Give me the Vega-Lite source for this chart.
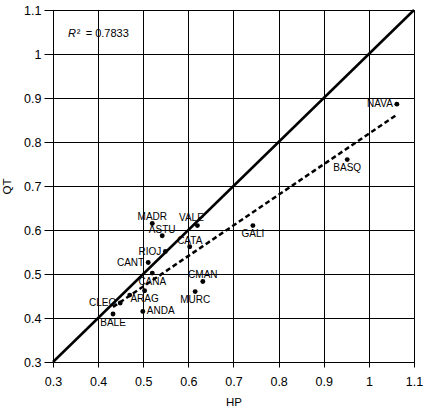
{
  "$schema": "https://vega.github.io/schema/vega-lite/v6.json",
  "width": 361,
  "height": 352,
  "autosize": {"type": "none"},
  "padding": {"left": 53, "top": 10, "right": 10, "bottom": 48},
  "background": "white",
  "config": {
    "font": "Liberation Sans",
    "view": {"stroke": "black", "strokeWidth": 1},
    "axis": {
      "grid": true, "gridColor": "black", "gridOpacity": 1, "gridWidth": 1,
      "domainColor": "black", "domainWidth": 1, "tickColor": "black", "tickWidth": 1,
      "labelColor": "black", "titleColor": "black",
      "labelFont": "Liberation Sans", "titleFont": "Liberation Sans",
      "labelFontSize": 12.5, "titleFontSize": 11.5, "titleFontWeight": "normal"
    }
  },
  "data": {"values": [
    {"name": "MADR", "hp": 0.520, "qt": 0.615},
    {"name": "VALE", "hp": 0.620, "qt": 0.610},
    {"name": "ASTU", "hp": 0.542, "qt": 0.587},
    {"name": "CATA", "hp": 0.603, "qt": 0.562},
    {"name": "RIOJ", "hp": 0.549, "qt": 0.551},
    {"name": "CANT", "hp": 0.511, "qt": 0.526},
    {"name": "CANA", "hp": 0.520, "qt": 0.502},
    {"name": "ARAG", "hp": 0.503, "qt": 0.462},
    {"name": "ANDA", "hp": 0.499, "qt": 0.415},
    {"name": "BALE", "hp": 0.433, "qt": 0.409},
    {"name": "CLEO", "hp": 0.449, "qt": 0.434},
    {"name": "EXTR", "hp": 0.470, "qt": 0.452},
    {"name": "CMAN", "hp": 0.632, "qt": 0.483},
    {"name": "MURC", "hp": 0.615, "qt": 0.460},
    {"name": "GALI", "hp": 0.743, "qt": 0.610},
    {"name": "BASQ", "hp": 0.952, "qt": 0.760},
    {"name": "NAVA", "hp": 1.062, "qt": 0.886}
  ]},
  "encoding": {
    "x": {"field": "hp", "type": "quantitative",
      "scale": {"domain": [0.3, 1.1], "nice": false, "zero": false},
      "axis": {"title": "HP", "values": [0.3, 0.4, 0.5, 0.6, 0.7, 0.8, 0.9, 1, 1.1], "format": "~g",
        "tickSize": 5, "labelPadding": 8, "labelFlush": false, "labelOverlap": false,
        "titleY": 43, "titleBaseline": "alphabetic"}},
    "y": {"field": "qt", "type": "quantitative",
      "scale": {"domain": [0.3, 1.1], "nice": false, "zero": false},
      "axis": {"title": "QT", "values": [0.3, 0.4, 0.5, 0.6, 0.7, 0.8, 0.9, 1, 1.1], "format": "~g",
        "tickSize": 9, "labelPadding": 3, "labelFlush": false, "labelOverlap": false,
        "titleX": -43, "titleBaseline": "alphabetic", "titleAngle": -90}}
  },
  "layer": [
    {
      "data": {"values": [{"hp": 0.3, "qt": 0.3}, {"hp": 1.1, "qt": 1.1}]},
      "mark": {"type": "line", "color": "black", "strokeWidth": 2.5},
      "encoding": {}
    },
    {
      "data": {"values": [{"hp": 0.433, "qt": 0.425}, {"hp": 1.062, "qt": 0.862}]},
      "mark": {"type": "line", "color": "black", "strokeWidth": 2.5, "strokeDash": [5, 3]},
      "encoding": {}
    },
    {
      "mark": {"type": "circle", "color": "black", "opacity": 1, "size": 24},
      "encoding": {}
    },
    {
      "transform": [{"filter": {"field": "name", "oneOf": ["MADR", "CATA", "CMAN", "ASTU"]}}],
      "mark": {"type": "text", "fontSize": 10, "color": "black", "align": "center", "baseline": "alphabetic", "dy": -3},
      "encoding": {"text": {"field": "name"}}
    },
    {
      "transform": [{"filter": {"field": "name", "oneOf": ["VALE"]}}],
      "mark": {"type": "text", "fontSize": 10, "color": "black", "align": "center", "baseline": "alphabetic", "dy": -5, "dx": -6},
      "encoding": {"text": {"field": "name"}}
    },
    {
      "transform": [{"filter": {"field": "name", "oneOf": ["CANA", "ARAG", "BALE", "MURC", "GALI", "BASQ"]}}],
      "mark": {"type": "text", "fontSize": 10, "color": "black", "align": "center", "baseline": "alphabetic", "dy": 11.5},
      "encoding": {"text": {"field": "name"}}
    },
    {
      "transform": [{"filter": {"field": "name", "oneOf": ["RIOJ", "CANT", "CLEO", "NAVA"]}}],
      "mark": {"type": "text", "fontSize": 10, "color": "black", "align": "right", "baseline": "middle", "dx": -4},
      "encoding": {"text": {"field": "name"}}
    },
    {
      "transform": [{"filter": {"field": "name", "oneOf": ["ANDA"]}}],
      "mark": {"type": "text", "fontSize": 10, "color": "black", "align": "left", "baseline": "middle", "dx": 4},
      "encoding": {"text": {"field": "name"}}
    },
    {
      "data": {"values": [{"t": "R", "hp": 0.333, "qt": 1.0383}]},
      "mark": {"type": "text", "fontSize": 11, "fontStyle": "italic", "color": "black", "align": "left", "baseline": "alphabetic"},
      "encoding": {"text": {"field": "t"}}
    },
    {
      "data": {"values": [{"t": "²", "hp": 0.3525, "qt": 1.0383}]},
      "mark": {"type": "text", "fontSize": 11, "color": "black", "align": "left", "baseline": "alphabetic"},
      "encoding": {"text": {"field": "t"}}
    },
    {
      "data": {"values": [{"t": "= 0.7833", "hp": 0.3725, "qt": 1.0383}]},
      "mark": {"type": "text", "fontSize": 11, "color": "black", "align": "left", "baseline": "alphabetic"},
      "encoding": {"text": {"field": "t"}}
    }
  ]
}
